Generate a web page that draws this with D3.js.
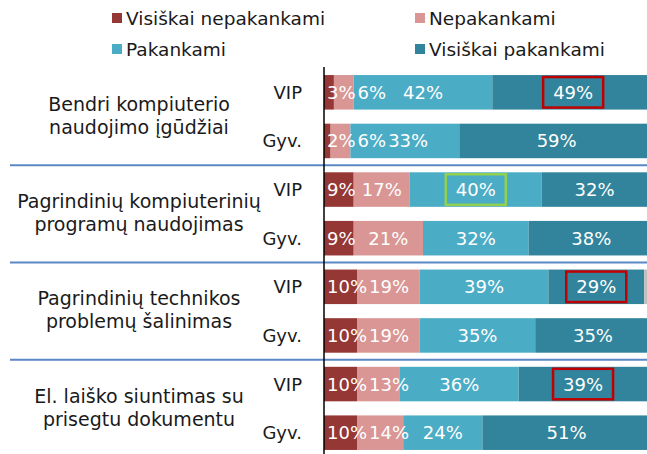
<!DOCTYPE html>
<html>
<head>
<meta charset="utf-8">
<script src="https://cdn.jsdelivr.net/npm/d3@7"></script>
<style>
  body { margin: 0; background: #fff; }
  svg { display: block; font-family: "DejaVu Sans", Verdana, sans-serif; }
</style>
</head>
<body>
<div id="chart"></div>
<script>
// categories
var groups = [
  ["Bendri kompiuterio", "naudojimo įgūdžiai"],
  ["Pagrindinių kompiuterinių", "programų naudojimas"],
  ["Pagrindinių technikos", "problemų šalinimas"],
  ["El. laiško siuntimas su", "prisegtu dokumentu"]
];
var respondents = ["VIP", "Gyv."];
var seriesNames = ["Visiškai nepakankami", "Nepakankami", "Pakankami", "Visiškai pakankami"];

// values, one per bar: group1 VIP, group1 Gyv., group2 VIP, ...
var visiskaiNepakankami = [3, 2, 9, 9, 10, 10, 10, 10];
var nepakankami         = [6, 6, 17, 21, 19, 19, 13, 14];
var pakankami           = [42, 33, 40, 32, 39, 35, 36, 24];
var visiskaiPakankami   = [49, 59, 32, 38, 29, 35, 39, 51];
var neatsake            = [0, 0, 0, 0, 3, 0, 0, 0]; // grey rest, no label

// boxed labels: [bar index, series index, box kind]
var highlights = [[0, 3, "red"], [2, 2, "green"], [4, 3, "red"], [6, 3, "red"]];

var w = 647, h = 454;
var colors = ["#953735", "#d99694", "#4bacc6", "#31849b", "#bfbfbf"];
var boxColors = { red: "#c00000", green: "#92d050" };

var svg = d3.select("#chart").append("svg")
  .attr("width", w).attr("height", h);

// build rows
var keys = ["vn", "n", "p", "vp", "na"];
var rows = [];
groups.forEach(function(g, gi) {
  respondents.forEach(function(r, ri) {
    var i = gi * 2 + ri;
    rows.push({
      id: gi + "-" + r, group: gi, resp: r,
      vn: visiskaiNepakankami[i], n: nepakankami[i], p: pakankami[i],
      vp: visiskaiPakankami[i], na: neatsake[i]
    });
  });
});

var x = d3.scaleLinear().domain([0, 100]).range([324, 654]);
var y = d3.scaleBand()
  .domain(rows.map(function(d) { return d.id; }))
  .range([68, 457])
  .paddingInner(0.29)
  .paddingOuter(0.145);

var stacked = d3.stack().keys(keys)(rows);

// bars
svg.append("g").selectAll("g")
  .data(stacked)
  .enter().append("g")
    .attr("fill", function(d, i) { return colors[i]; })
  .selectAll("rect")
  .data(function(d) { return d; })
  .enter().append("rect")
    .attr("x", function(d) { return x(d[0]); })
    .attr("y", function(d) { return y(d.data.id); })
    .attr("width", function(d) { return x(d[1]) - x(d[0]); })
    .attr("height", y.bandwidth());

// value labels: centred on segment, pushed right if they collide
var labelG = svg.append("g")
  .attr("font-size", 18)
  .attr("fill", "#fff");

var labelPos = {};
rows.forEach(function(row, ri) {
  var prevEnd = x(0) + 1;
  for (var si = 0; si < 4; si++) {
    var s = stacked[si][ri];
    var t = labelG.append("text")
      .attr("y", y(row.id) + y.bandwidth() / 2)
      .attr("dy", "0.36em")
      .text(row[keys[si]] + "%");
    var tw = t.node().getComputedTextLength();
    var left = (x(s[0]) + x(s[1])) / 2 - tw / 2;
    if (left < prevEnd + 2) left = prevEnd + 2;
    t.attr("x", left);
    prevEnd = left + tw;
    labelPos[ri + "-" + si] = { cx: left + tw / 2, w: tw };
  }
});

// highlight boxes
svg.append("g").selectAll("rect")
  .data(highlights)
  .enter().append("rect")
    .attr("x", function(d) { var p = labelPos[d[0] + "-" + d[1]]; return p.cx - p.w / 2 - 10; })
    .attr("y", function(d) { return y(rows[d[0]].id) + 2; })
    .attr("width", function(d) { return labelPos[d[0] + "-" + d[1]].w + 20; })
    .attr("height", y.bandwidth() - 4)
    .attr("fill", "none")
    .attr("stroke", function(d) { return boxColors[d[2]]; })
    .attr("stroke-width", 2.5);

// group separators
var step = y.step();
svg.append("g").selectAll("line")
  .data(groups.slice(1))
  .enter().append("line")
    .attr("x1", 10).attr("x2", w)
    .attr("y1", function(d, i) { return y(rows[(i + 1) * 2].id) - step * y.paddingInner() / 2; })
    .attr("y2", function(d, i) { return y(rows[(i + 1) * 2].id) - step * y.paddingInner() / 2; })
    .attr("stroke", "#5b87c5")
    .attr("stroke-width", 2);

// axis line
svg.append("line")
  .attr("x1", x(0)).attr("x2", x(0))
  .attr("y1", y.range()[0] - 1).attr("y2", h)
  .attr("stroke", "#000")
  .attr("stroke-width", 1.5);

// respondent labels
svg.append("g").selectAll("text")
  .data(rows)
  .enter().append("text")
    .attr("x", 302)
    .attr("y", function(d) { return y(d.id) + y.bandwidth() / 2; })
    .attr("dy", "0.36em")
    .attr("text-anchor", "end")
    .attr("font-size", 18)
    .attr("fill", "#1a1a1a")
    .text(function(d) { return d.resp; });

// group labels
groups.forEach(function(g, gi) {
  var top = y(rows[gi * 2].id), bottom = y(rows[gi * 2 + 1].id) + y.bandwidth();
  var mid = (top + bottom) / 2 - 1;
  g.forEach(function(line, li) {
    svg.append("text")
      .attr("x", 139)
      .attr("y", mid + (li - 0.5) * 23)
      .attr("dy", "0.36em")
      .attr("text-anchor", "middle")
      .attr("font-size", 19)
      .attr("fill", "#1a1a1a")
      .text(line);
  });
});

// legend
var legend = svg.append("g").selectAll("g")
  .data(seriesNames)
  .enter().append("g")
    .attr("transform", function(d, i) {
      return "translate(" + (i % 2 ? 415 : 112) + "," + (i < 2 ? 18 : 49) + ")";
    });
legend.append("rect")
  .attr("x", 0).attr("y", -5)
  .attr("width", 10).attr("height", 10)
  .attr("fill", function(d, i) { return colors[i]; });
legend.append("text")
  .attr("x", 14)
  .attr("dy", "0.36em")
  .attr("font-size", 18.5)
  .attr("fill", "#1a1a1a")
  .text(function(d) { return d; });
</script>
</body>
</html>
